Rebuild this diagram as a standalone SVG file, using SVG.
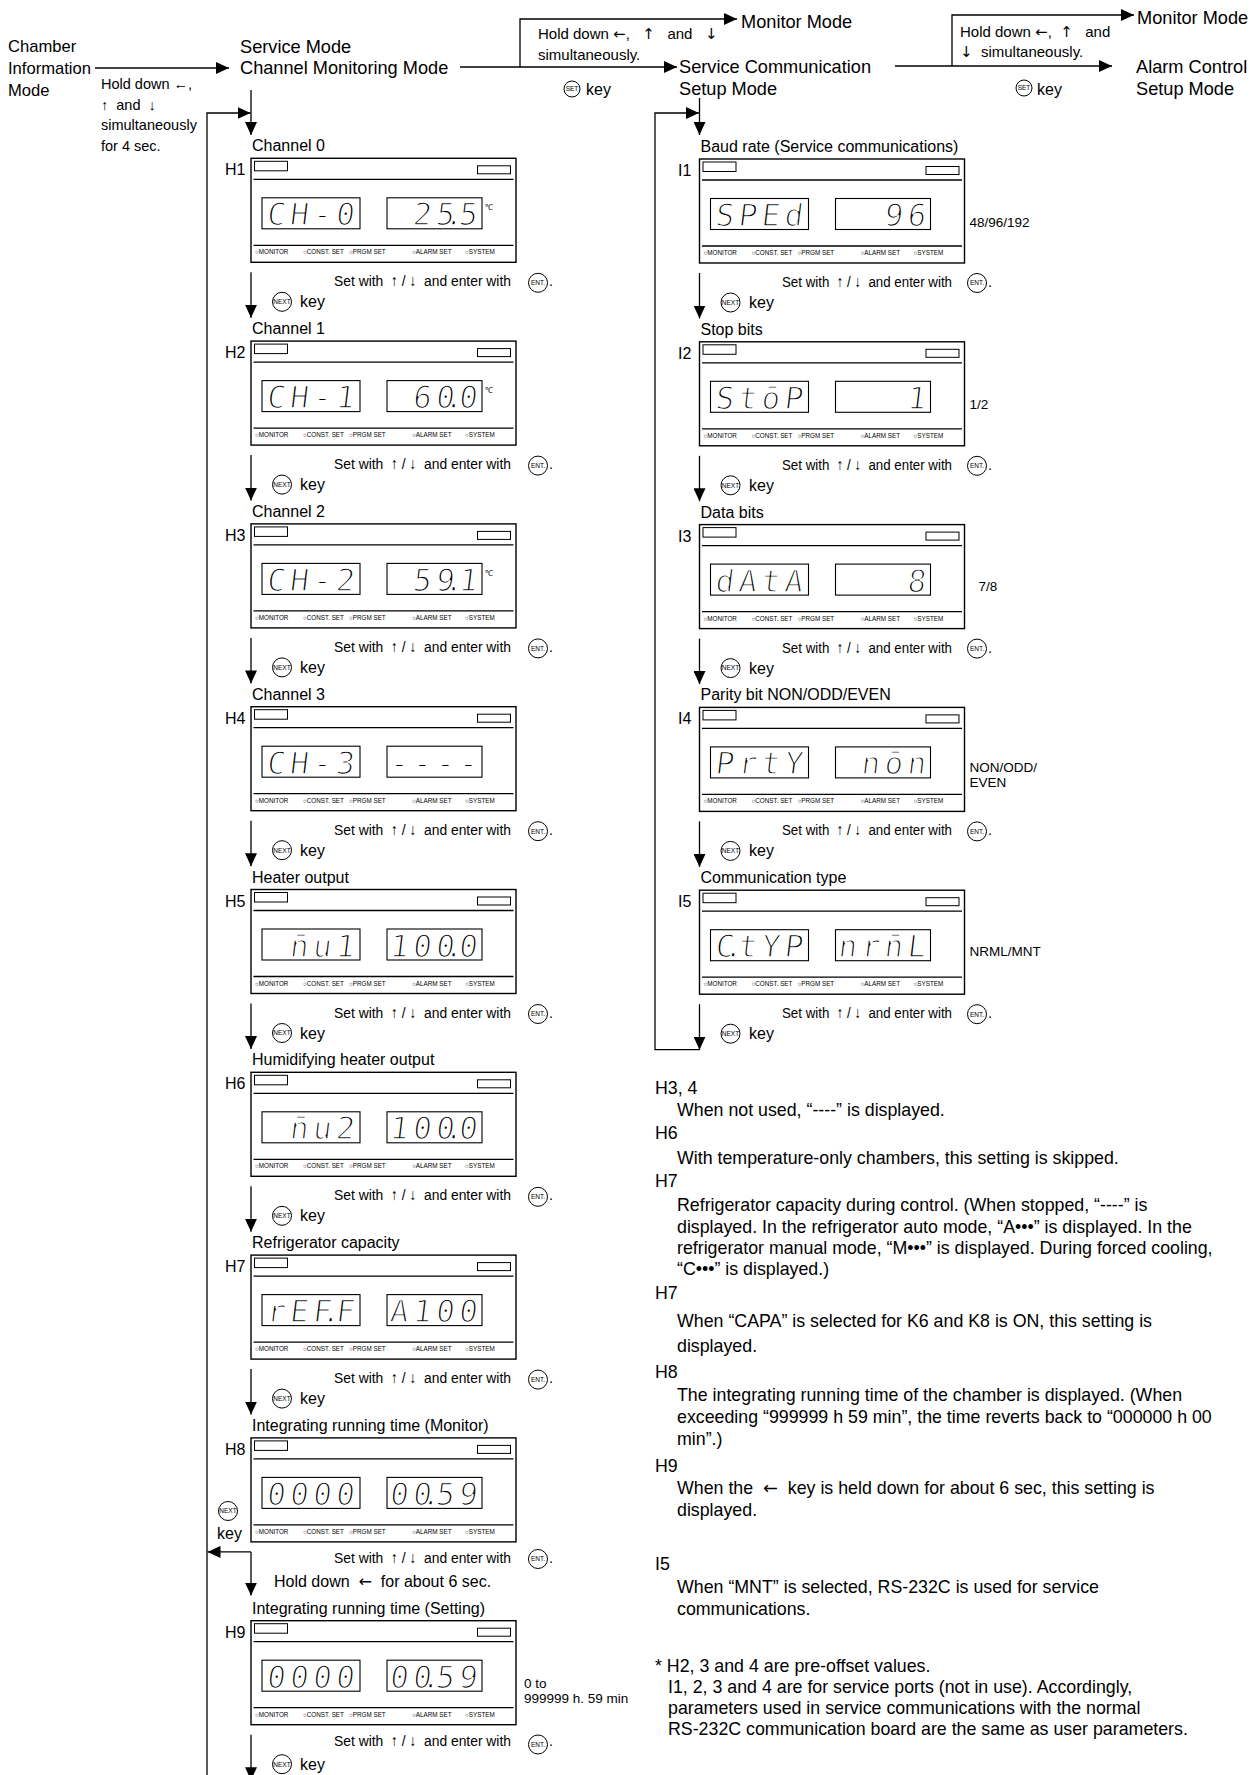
<svg xmlns="http://www.w3.org/2000/svg" xmlns:xlink="http://www.w3.org/1999/xlink" width="1260" height="1775" viewBox="0 0 1260 1775">
<style>
text{font-family:"Liberation Sans",Arial,sans-serif;fill:#000}
.big{font-size:18.2px}
.cb{font-size:16.6px}
.lbl{font-size:16px}
.note{font-size:17.8px}
.sm{font-size:14.5px}
.hd{font-size:15px}
.sw{font-size:15.5px}
.side{font-size:13.5px}
.tiny{font-size:6.3px}
.ar{font-family:"DejaVu Sans",sans-serif}
.seg{font-family:"DejaVu Sans Mono",monospace;font-size:31px;fill:#000;stroke:#fff;stroke-width:1.5}
.deg{font-size:8px}
.frame{fill:#fff;stroke:#000;stroke-width:1.4}
.thin{fill:none;stroke:#000;stroke-width:1}
.disp{fill:none;stroke:#000;stroke-width:1.1}
.sep{fill:none;stroke:#000;stroke-width:1.3}
.arr{fill:none;stroke:#000;stroke-width:1.3;marker-end:url(#ah)}
.kc{fill:#fff;stroke:#000;stroke-width:1}
.kt{font-size:6.5px;text-anchor:middle}
</style>
<defs>
<marker id="ah" markerUnits="userSpaceOnUse" markerWidth="13" markerHeight="12" refX="13" refY="6" orient="auto" viewBox="0 0 13 12"><path d="M0,0 L13,6 L0,12 z" fill="#000"/></marker>
<g id="pf">
<rect class="frame" x="0" y="0" width="265" height="104"/>
<rect class="thin" x="3.5" y="3" width="33" height="9.5"/>
<rect class="thin" x="226.5" y="7.5" width="33" height="8"/>
<path class="sep" d="M2.5,21H262.5M2.5,87H262.5"/>
<rect class="disp" x="11" y="39.5" width="98" height="31"/>
<rect class="disp" x="136" y="39.5" width="95" height="31"/>
<text class="tiny" y="96"><tspan x="4">○MONITOR</tspan><tspan x="52">○CONST. SET</tspan><tspan x="98">○PRGM SET</tspan><tspan x="161">○ALARM SET</tspan><tspan x="214">○SYSTEM</tspan></text>
</g>
<g id="kNext"><circle class="kc" r="9.5"/><text class="kt" y="2.3">NEXT</text></g>
<g id="kEnt"><circle class="kc" r="9.5"/><text class="kt" y="2.3">ENT.</text></g>
<g id="kSet"><circle class="kc" r="8"/><text class="kt" y="2.3">SET</text></g>
</defs>
<rect width="1260" height="1775" fill="#fff"/>

<g id="connectors">
<path class="arr" d="M95,68H229"/>
<path class="arr" d="M251,90V135"/>
<path class="arr" d="M207,1775V113H250.5"/>
<path class="arr" d="M460,67H677"/>
<path class="arr" d="M520,67V19H737"/>
<path class="arr" d="M699.5,98V135"/>
<path class="arr" d="M699.5,1049.7H655V113H699"/>
<path class="arr" d="M895,66H1112"/>
<path class="arr" d="M952,66V15H1134"/>
<path class="arr" d="M251,272.3V317.8"/>
<path class="arr" d="M251,455.1V500.6"/>
<path class="arr" d="M251,637.9V683.4"/>
<path class="arr" d="M251,820.7V866.2"/>
<path class="arr" d="M251,1003.5V1049"/>
<path class="arr" d="M251,1186.3V1231.8"/>
<path class="arr" d="M251,1369.1V1414.6"/>
<path class="arr" d="M251,1551.9V1595.6"/>
<path class="arr" d="M251,1551.9H207.5"/>
<path class="arr" d="M251,1734.7V1780.2"/>
<path class="arr" d="M699.5,273V318.5"/>
<path class="arr" d="M699.5,455.8V501.3"/>
<path class="arr" d="M699.5,638.6V684.1"/>
<path class="arr" d="M699.5,821.4V866.9"/>
<path class="arr" d="M699.5,1004.2V1049.7"/>
</g>

<g id="modes">
<text class="cb" x="8" y="52">Chamber</text>
<text class="cb" x="8" y="74">Information</text>
<text class="cb" x="8" y="96">Mode</text>
<text class="sm" x="101" y="89">Hold down ←,</text>
<text class="sm" x="101" y="110" xml:space="preserve">↑  and  ↓</text>
<text class="sm" x="101" y="130">simultaneously</text>
<text class="sm" x="101" y="151">for 4 sec.</text>
<text class="big" x="240" y="53">Service Mode</text>
<text class="big" x="240" y="74">Channel Monitoring Mode</text>
<text class="hd" x="538" y="39" xml:space="preserve">Hold down <tspan class="ar">←</tspan>,   <tspan class="ar">↑</tspan>   and   <tspan class="ar">↓</tspan></text>
<text class="hd" x="538" y="60">simultaneously.</text>
<use href="#kSet" x="572" y="89"/>
<text class="lbl" x="586" y="95">key</text>
<text class="big" x="741" y="28">Monitor Mode</text>
<text class="big" x="679" y="73">Service Communication</text>
<text class="big" x="679" y="95">Setup Mode</text>
<text class="hd" x="960" y="37" xml:space="preserve">Hold down <tspan class="ar">←</tspan>,  <tspan class="ar">↑</tspan>   and</text>
<text class="hd" x="960" y="57" xml:space="preserve"><tspan class="ar">↓</tspan>  simultaneously.</text>
<use href="#kSet" x="1024" y="88"/>
<text class="lbl" x="1037" y="95">key</text>
<text class="big" x="1137" y="24">Monitor Mode</text>
<text class="big" x="1136" y="73">Alarm Control</text>
<text class="big" x="1136" y="95">Setup Mode</text>
</g>

<g id="H1" transform="translate(251,158.3)">
<text class="lbl" x="1" y="-7">Channel 0</text><text class="lbl" x="-26" y="17">H1</text>
<use href="#pf"/>
<text class="seg" transform="matrix(1 0 -0.12 1 11 67)" x="4 27 50 73">CH-0</text>
<text class="seg" transform="matrix(1 0 -0.12 1 136 67)" x="25 48 57 71">25.5</text>
<text class="deg" x="234" y="52">℃</text>
</g>
<g id="H2" transform="translate(251,341.1)">
<text class="lbl" x="1" y="-7">Channel 1</text><text class="lbl" x="-26" y="17">H2</text>
<use href="#pf"/>
<text class="seg" transform="matrix(1 0 -0.12 1 11 67)" x="4 27 50 73">CH-1</text>
<text class="seg" transform="matrix(1 0 -0.12 1 136 67)" x="25 48 57 71">60.0</text>
<text class="deg" x="234" y="52">℃</text>
</g>
<g id="H3" transform="translate(251,523.9)">
<text class="lbl" x="1" y="-7">Channel 2</text><text class="lbl" x="-26" y="17">H3</text>
<use href="#pf"/>
<text class="seg" transform="matrix(1 0 -0.12 1 11 67)" x="4 27 50 73">CH-2</text>
<text class="seg" transform="matrix(1 0 -0.12 1 136 67)" x="25 48 57 71">59.1</text>
<text class="deg" x="234" y="52">℃</text>
</g>
<g id="H4" transform="translate(251,706.7)">
<text class="lbl" x="1" y="-7">Channel 3</text><text class="lbl" x="-26" y="17">H4</text>
<use href="#pf"/>
<text class="seg" transform="matrix(1 0 -0.12 1 11 67)" x="4 27 50 73">CH-3</text>
<text class="seg" transform="matrix(1 0 -0.12 1 136 67)" x="2 25 48 71">----</text>
</g>
<g id="H5" transform="translate(251,889.5)">
<text class="lbl" x="1" y="-7">Heater output</text><text class="lbl" x="-26" y="17">H5</text>
<use href="#pf"/>
<text class="seg" transform="matrix(1 0 -0.12 1 11 67)"><tspan x="27">n&#x304;</tspan><tspan x="50">u</tspan><tspan x="73">1</tspan></text>
<text class="seg" transform="matrix(1 0 -0.12 1 136 67)" x="2 25 48 57 71">100.0</text>
</g>
<g id="H6" transform="translate(251,1072.3)">
<text class="lbl" x="1" y="-7">Humidifying heater output</text><text class="lbl" x="-26" y="17">H6</text>
<use href="#pf"/>
<text class="seg" transform="matrix(1 0 -0.12 1 11 67)"><tspan x="27">n&#x304;</tspan><tspan x="50">u</tspan><tspan x="73">2</tspan></text>
<text class="seg" transform="matrix(1 0 -0.12 1 136 67)" x="2 25 48 57 71">100.0</text>
</g>
<g id="H7" transform="translate(251,1255.1)">
<text class="lbl" x="1" y="-7">Refrigerator capacity</text><text class="lbl" x="-26" y="17">H7</text>
<use href="#pf"/>
<text class="seg" transform="matrix(1 0 -0.12 1 11 67)" x="4 27 50 59 73">rEF.F</text>
<text class="seg" transform="matrix(1 0 -0.12 1 136 67)" x="2 25 48 71">A100</text>
</g>
<g id="H8" transform="translate(251,1437.9)">
<text class="lbl" x="1" y="-7">Integrating running time (Monitor)</text><text class="lbl" x="-26" y="17">H8</text>
<use href="#pf"/>
<text class="seg" transform="matrix(1 0 -0.12 1 11 67)" x="4 27 50 73">0000</text>
<text class="seg" transform="matrix(1 0 -0.12 1 136 67)" x="2 25 34 48 71">00.59</text>
</g>
<g id="H9" transform="translate(251,1620.7)">
<text class="lbl" x="1" y="-7">Integrating running time (Setting)</text><text class="lbl" x="-26" y="17">H9</text>
<use href="#pf"/>
<text class="seg" transform="matrix(1 0 -0.12 1 11 67)" x="4 27 50 73">0000</text>
<text class="seg" transform="matrix(1 0 -0.12 1 136 67)" x="2 25 34 48 71">00.59</text>
<text class="side" x="273" y="67.3">0 to</text>
<text class="side" x="273" y="82.3">999999 h. 59 min</text>
</g>

<g id="I1" transform="translate(699.5,159)">
<text class="lbl" x="1" y="-7">Baud rate (Service communications)</text><text class="lbl" x="-21.5" y="17">I1</text>
<use href="#pf"/>
<text class="seg" transform="matrix(1 0 -0.12 1 11 67)" x="4 27 50 73">SPEd</text>
<text class="seg" transform="matrix(1 0 -0.12 1 136 67)" x="48 71">96</text>
<text class="side" x="270" y="67.7">48/96/192</text>
</g>
<g id="I2" transform="translate(699.5,341.8)">
<text class="lbl" x="1" y="-7">Stop bits</text><text class="lbl" x="-21.5" y="17">I2</text>
<use href="#pf"/>
<text class="seg" transform="matrix(1 0 -0.12 1 11 67)" x="4 27 50 73">StōP</text>
<text class="seg" transform="matrix(1 0 -0.12 1 136 67)" x="71">1</text>
<text class="side" x="270" y="67">1/2</text>
</g>
<g id="I3" transform="translate(699.5,524.6)">
<text class="lbl" x="1" y="-7">Data bits</text><text class="lbl" x="-21.5" y="17">I3</text>
<use href="#pf"/>
<text class="seg" transform="matrix(1 0 -0.12 1 11 67)" x="4 27 50 73">dAtA</text>
<text class="seg" transform="matrix(1 0 -0.12 1 136 67)" x="71">8</text>
<text class="side" x="279" y="66.5">7/8</text>
</g>
<g id="I4" transform="translate(699.5,707.4)">
<text class="lbl" x="1" y="-7">Parity bit NON/ODD/EVEN</text><text class="lbl" x="-21.5" y="17">I4</text>
<use href="#pf"/>
<text class="seg" transform="matrix(1 0 -0.12 1 11 67)" x="4 27 50 73">PrtY</text>
<text class="seg" transform="matrix(1 0 -0.12 1 136 67)" x="25 48 71">nōn</text>
<text class="side" x="270" y="65">NON/ODD/</text>
<text class="side" x="270" y="80">EVEN</text>
</g>
<g id="I5" transform="translate(699.5,890.2)">
<text class="lbl" x="1" y="-7">Communication type</text><text class="lbl" x="-21.5" y="17">I5</text>
<use href="#pf"/>
<text class="seg" transform="matrix(1 0 -0.12 1 11 67)" x="4 13 27 50 73">C.tYP</text>
<text class="seg" transform="matrix(1 0 -0.12 1 136 67)"><tspan x="2">n</tspan><tspan x="25">r</tspan><tspan x="48">n&#x304;</tspan><tspan x="71">L</tspan></text>
<text class="side" x="270" y="66">NRML/MNT</text>
</g>

<g id="edge-labels">
<text class="sw" x="334" y="286.3" textLength="177" lengthAdjust="spacingAndGlyphs" xml:space="preserve">Set with  ↑ / ↓  and enter with</text><use href="#kEnt" x="538" y="282.8"/><text class="sm" x="549" y="286.3">.</text>
<use href="#kNext" x="282" y="301.8"/><text class="lbl" x="300" y="307.3">key</text>
<text class="sw" x="334" y="469.1" textLength="177" lengthAdjust="spacingAndGlyphs" xml:space="preserve">Set with  ↑ / ↓  and enter with</text><use href="#kEnt" x="538" y="465.6"/><text class="sm" x="549" y="469.1">.</text>
<use href="#kNext" x="282" y="484.6"/><text class="lbl" x="300" y="490.1">key</text>
<text class="sw" x="334" y="651.9" textLength="177" lengthAdjust="spacingAndGlyphs" xml:space="preserve">Set with  ↑ / ↓  and enter with</text><use href="#kEnt" x="538" y="648.4"/><text class="sm" x="549" y="651.9">.</text>
<use href="#kNext" x="282" y="667.4"/><text class="lbl" x="300" y="672.9">key</text>
<text class="sw" x="334" y="834.7" textLength="177" lengthAdjust="spacingAndGlyphs" xml:space="preserve">Set with  ↑ / ↓  and enter with</text><use href="#kEnt" x="538" y="831.2"/><text class="sm" x="549" y="834.7">.</text>
<use href="#kNext" x="282" y="850.2"/><text class="lbl" x="300" y="855.7">key</text>
<text class="sw" x="334" y="1017.5" textLength="177" lengthAdjust="spacingAndGlyphs" xml:space="preserve">Set with  ↑ / ↓  and enter with</text><use href="#kEnt" x="538" y="1014"/><text class="sm" x="549" y="1017.5">.</text>
<use href="#kNext" x="282" y="1033"/><text class="lbl" x="300" y="1038.5">key</text>
<text class="sw" x="334" y="1200.3" textLength="177" lengthAdjust="spacingAndGlyphs" xml:space="preserve">Set with  ↑ / ↓  and enter with</text><use href="#kEnt" x="538" y="1196.8"/><text class="sm" x="549" y="1200.3">.</text>
<use href="#kNext" x="282" y="1215.8"/><text class="lbl" x="300" y="1221.3">key</text>
<text class="sw" x="334" y="1383.1" textLength="177" lengthAdjust="spacingAndGlyphs" xml:space="preserve">Set with  ↑ / ↓  and enter with</text><use href="#kEnt" x="538" y="1379.6"/><text class="sm" x="549" y="1383.1">.</text>
<use href="#kNext" x="282" y="1398.6"/><text class="lbl" x="300" y="1404.1">key</text>
<text class="sw" x="334" y="1563.3" textLength="177" lengthAdjust="spacingAndGlyphs" xml:space="preserve">Set with  ↑ / ↓  and enter with</text><use href="#kEnt" x="538" y="1559"/><text class="sm" x="549" y="1563.3">.</text>
<text class="lbl" x="274" y="1587" xml:space="preserve">Hold down  <tspan class="ar">←</tspan>  for about 6 sec.</text>
<use href="#kNext" x="228" y="1511"/><text class="lbl" x="217" y="1539">key</text>
<text class="sw" x="334" y="1746" textLength="177" lengthAdjust="spacingAndGlyphs" xml:space="preserve">Set with  ↑ / ↓  and enter with</text><use href="#kEnt" x="538" y="1744.5"/><text class="sm" x="549" y="1746">.</text>
<use href="#kNext" x="282" y="1764.2"/><text class="lbl" x="300" y="1769.7">key</text>

<text class="sw" x="782" y="287" textLength="170" lengthAdjust="spacingAndGlyphs" xml:space="preserve">Set with  ↑ / ↓  and enter with</text><use href="#kEnt" x="977" y="283"/><text class="sm" x="988" y="287">.</text>
<use href="#kNext" x="730.5" y="302.5"/><text class="lbl" x="749" y="308">key</text>
<text class="sw" x="782" y="469.8" textLength="170" lengthAdjust="spacingAndGlyphs" xml:space="preserve">Set with  ↑ / ↓  and enter with</text><use href="#kEnt" x="977" y="465.8"/><text class="sm" x="988" y="469.8">.</text>
<use href="#kNext" x="730.5" y="485.3"/><text class="lbl" x="749" y="490.8">key</text>
<text class="sw" x="782" y="652.6" textLength="170" lengthAdjust="spacingAndGlyphs" xml:space="preserve">Set with  ↑ / ↓  and enter with</text><use href="#kEnt" x="977" y="648.6"/><text class="sm" x="988" y="652.6">.</text>
<use href="#kNext" x="730.5" y="668.1"/><text class="lbl" x="749" y="673.6">key</text>
<text class="sw" x="782" y="835.4" textLength="170" lengthAdjust="spacingAndGlyphs" xml:space="preserve">Set with  ↑ / ↓  and enter with</text><use href="#kEnt" x="977" y="831.4"/><text class="sm" x="988" y="835.4">.</text>
<use href="#kNext" x="730.5" y="850.9"/><text class="lbl" x="749" y="856.4">key</text>
<text class="sw" x="782" y="1018.2" textLength="170" lengthAdjust="spacingAndGlyphs" xml:space="preserve">Set with  ↑ / ↓  and enter with</text><use href="#kEnt" x="977" y="1014.2"/><text class="sm" x="988" y="1018.2">.</text>
<use href="#kNext" x="730.5" y="1033.7"/><text class="lbl" x="749" y="1039.2">key</text>
</g>

<g id="notes">
<text class="note" x="655" y="1094">H3, 4</text>
<text class="note" x="677" y="1116">When not used, “----” is displayed.</text>
<text class="note" x="655" y="1139">H6</text>
<text class="note" x="677" y="1164">With temperature-only chambers, this setting is skipped.</text>
<text class="note" x="655" y="1187">H7</text>
<text class="note" x="677" y="1211">Refrigerator capacity during control. (When stopped, “----” is</text>
<text class="note" x="677" y="1233">displayed. In the refrigerator auto mode, “A•••” is displayed. In the</text>
<text class="note" x="677" y="1254">refrigerator manual mode, “M•••” is displayed. During forced cooling,</text>
<text class="note" x="677" y="1275">“C•••” is displayed.)</text>
<text class="note" x="655" y="1299">H7</text>
<text class="note" x="677" y="1327">When “CAPA” is selected for K6 and K8 is ON, this setting is</text>
<text class="note" x="677" y="1352">displayed.</text>
<text class="note" x="655" y="1378">H8</text>
<text class="note" x="677" y="1401">The integrating running time of the chamber is displayed. (When</text>
<text class="note" x="677" y="1423">exceeding “999999 h 59 min”, the time reverts back to “000000 h 00</text>
<text class="note" x="677" y="1445">min”.)</text>
<text class="note" x="655" y="1472">H9</text>
<text class="note" x="677" y="1494" xml:space="preserve">When the  <tspan class="ar">←</tspan>  key is held down for about 6 sec, this setting is</text>
<text class="note" x="677" y="1516">displayed.</text>
<text class="note" x="655" y="1570">I5</text>
<text class="note" x="677" y="1593">When “MNT” is selected, RS-232C is used for service</text>
<text class="note" x="677" y="1615">communications.</text>
<text class="note" x="655" y="1672">* H2, 3 and 4 are pre-offset values.</text>
<text class="note" x="668" y="1693">I1, 2, 3 and 4 are for service ports (not in use). Accordingly,</text>
<text class="note" x="668" y="1714">parameters used in service communications with the normal</text>
<text class="note" x="668" y="1735">RS-232C communication board are the same as user parameters.</text>
</g>
</svg>
